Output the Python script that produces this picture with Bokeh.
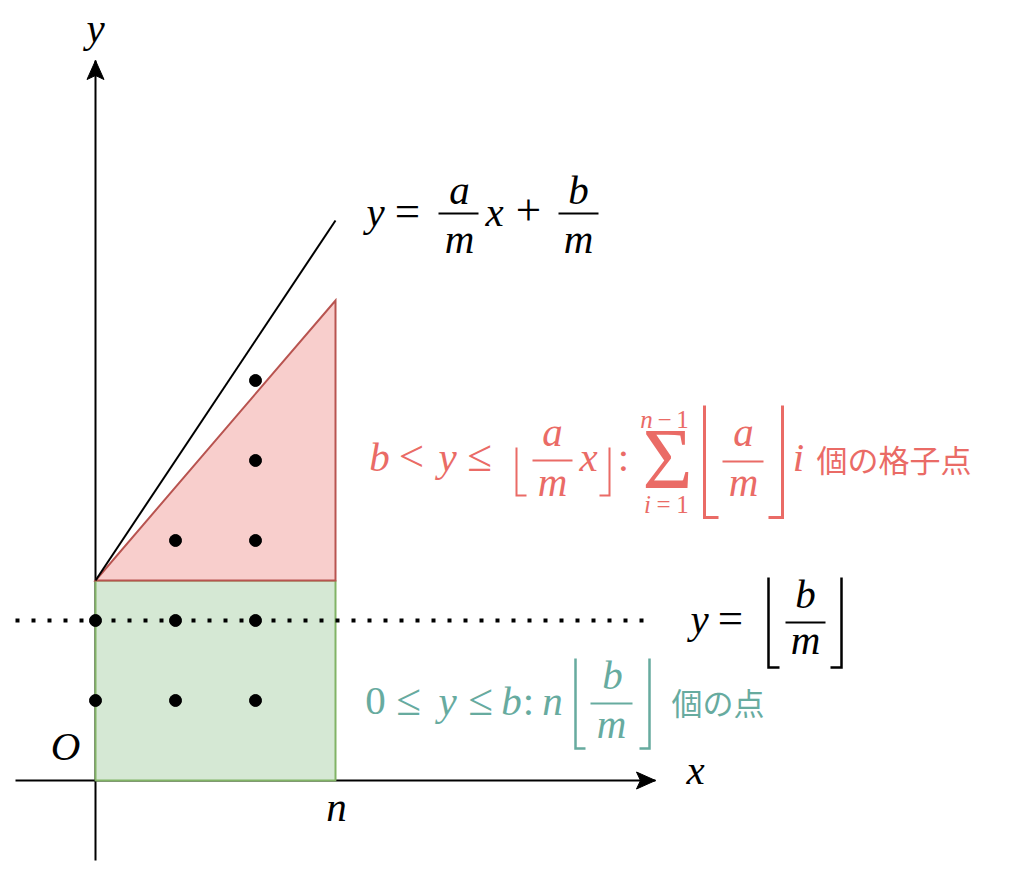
from bokeh.plotting import figure
from bokeh.models import Range1d
from bokeh.core.properties import value
from bokeh.embed import file_html
from bokeh.resources import INLINE

# ---- data (grid units: one lattice step = 1) ----
n_val = 3            # x = n
b_level = 2.5        # y = b (top of green region, start of red triangle)
floor_bm = 2         # y = floor(b/m) (dotted line)
red_top = 6          # top of red triangle at x = n
line_top = 7         # y of the line a/m x + b/m at x = n
x_axis = [-1, 7]
y_axis = [-1, 9]
dotted_x = [-1, 6.85]
dots_x = [0, 1, 2, 0, 1, 2, 1, 2, 2, 2]
dots_y = [1, 1, 1, 2, 2, 2, 3, 3, 4, 5]

RED_TXT = "#EA6B66"
GRN_TXT = "#67AB9F"

W, H = 1004, 862
OX, OY, U = 95, 780, 80.0   # origin in picture pixels, pixels per unit


def X(px):
    return (px - OX) / U


def Y(py):
    return (OY - py) / U


p = figure(width=W, height=H, output_backend="svg", toolbar_location=None,
           x_axis_type=None, y_axis_type=None, min_border=0,
           x_range=Range1d(X(0), X(W)), y_range=Range1d(Y(H), Y(0)))
p.grid.visible = False
p.outline_line_color = None
p.background_fill_color = "white"
p.border_fill_color = "white"

# axes
p.line(x=x_axis, y=[0, 0], line_color="black", line_width=2)
p.line(x=[0, 0], y=y_axis, line_color="black", line_width=2)


def head(tx, ty, dx, dy):
    L, Wd, N = 19 / U, 8.5 / U, 4 / U
    px_, py_ = -dy, dx
    bx, by = tx - dx * L, ty - dy * L
    nx, ny = tx - dx * (L - N), ty - dy * (L - N)
    return ([tx, bx + px_ * Wd, nx, bx - px_ * Wd],
            [ty, by + py_ * Wd, ny, by - py_ * Wd])


hx1, hy1 = head(x_axis[1], 0, 1, 0)
hx2, hy2 = head(0, y_axis[1], 0, 1)
p.patches(xs=[hx1, hx2], ys=[hy1, hy2], fill_color="black", line_color="black", line_width=1)

# regions
p.quad(left=[0], right=[n_val], bottom=[0], top=[b_level],
       fill_color="#D5E8D4", line_color="#82B366", line_width=2)
p.patch(x=[0, n_val, n_val], y=[b_level, b_level, red_top],
        fill_color="#F8CECC", line_color="#B85450", line_width=2, line_join="miter")

# dotted line y = floor(b/m)
p.line(x=dotted_x, y=[floor_bm, floor_bm], line_color="black", line_width=4,
       line_dash="4 12", line_cap="butt")

# line y = a/m x + b/m
p.line(x=[0, n_val], y=[b_level, line_top], line_color="black", line_width=2)

# lattice points
p.scatter(x=dots_x, y=dots_y, size=12, marker="circle", fill_color="black", line_color="black")

# ---- text (formulas assembled from pieces) ----
STY = {
    "i": ("Liberation Serif", "italic", 41),
    "r": ("Liberation Serif", "normal", 41),
    "o": ("Liberation Serif", "normal", 45),
    "si": ("Liberation Serif", "italic", 25),
    "sr": ("Liberation Serif", "normal", 25),
    "big": ("Liberation Serif", "normal", 86),
}
K = 0.33  # baseline correction (fraction of font size)

pieces = [
    # axis labels
    ("y", 95, 41, "i", "black"), ("x", 695, 783, "i", "black"),
    ("O", 65, 759, "i", "black"), ("n", 336, 820, "i", "black"),
    # y = a/m x + b/m
    ("y", 375, 225, "i", "black"), ("=", 407, 225, "o", "black"),
    ("a", 459, 203, "i", "black"), ("m", 459, 252, "i", "black"),
    ("x", 494, 225, "i", "black"), ("+", 528, 225, "o", "black"),
    ("b", 578, 203, "i", "black"), ("m", 578, 252, "i", "black"),
    # red formula
    ("b", 379, 470, "i", RED_TXT), ("<", 411, 470, "o", RED_TXT),
    ("y", 447, 470, "i", RED_TXT), ("≤", 479, 470, "o", RED_TXT),
    ("a", 552, 445, "i", RED_TXT), ("m", 552, 495, "i", RED_TXT),
    ("x", 588, 470, "i", RED_TXT), (":", 623, 470, "r", RED_TXT),
    ("Σ", 667, 487, "big", RED_TXT),
    ("n", 646, 427, "si", RED_TXT), ("−", 664, 427, "sr", RED_TXT), ("1", 682, 427, "sr", RED_TXT),
    ("i", 647, 512, "si", RED_TXT), ("=", 663, 512, "sr", RED_TXT), ("1", 682, 512, "sr", RED_TXT),
    ("a", 743, 445, "i", RED_TXT), ("m", 743, 495, "i", RED_TXT),
    ("i", 798, 470, "i", RED_TXT),
    # y = floor(b/m)
    ("y", 699, 632, "i", "black"), ("=", 730, 632, "o", "black"),
    ("b", 805, 607, "i", "black"), ("m", 805, 653, "i", "black"),
    # green formula
    ("0", 375, 714, "r", GRN_TXT), ("≤", 408, 714, "o", GRN_TXT),
    ("y", 447, 714, "i", GRN_TXT), ("≤", 480, 714, "o", GRN_TXT),
    ("b", 511, 714, "i", GRN_TXT), (":", 528, 714, "r", GRN_TXT),
    ("n", 552, 714, "i", GRN_TXT),
    ("b", 612, 688, "i", GRN_TXT), ("m", 611, 737, "i", GRN_TXT),
]

for t, cx, by, st, col in pieces:
    f, fs, sz = STY[st]
    p.text(x=[X(cx)], y=[Y(by - K * sz)], text=[t], text_font=value(f), text_font_style=fs,
           text_font_size=f"{sz}px", text_color=col, text_align="center",
           text_baseline="alphabetic")

cjk = [("個の格子点", 816, 458, RED_TXT), ("個の点", 671, 701, GRN_TXT)]
for t, lx, cy, col in cjk:
    p.text(x=[X(lx)], y=[Y(cy)], text=[t], text_font=value("Noto Sans CJK JP"),
           text_font_size="31px", text_color=col, text_align="left", text_baseline="middle")

# fraction bars
bars = [(438, 478, 213, "black"), (558, 598, 213, "black"),
        (532, 572, 460, RED_TXT), (722, 763, 461, RED_TXT),
        (785, 825, 622, "black"), (590, 632, 703, GRN_TXT)]
for x0, x1, yy, col in bars:
    p.line(x=[X(x0), X(x1)], y=[Y(yy), Y(yy)], line_color=col, line_width=2)

# floor brackets: (x_vertical, x_foot_end, y_top, y_bottom, color, width)
brackets = [
    (516, 526, 447, 495, RED_TXT, 2), (609, 599, 447, 495, RED_TXT, 2),
    (704, 718, 405, 517, RED_TXT, 3), (782, 768, 405, 517, RED_TXT, 3),
    (768, 779, 577, 667, "black", 2.5), (841, 830, 577, 667, "black", 2.5),
    (575, 585, 658, 748, GRN_TXT, 2.5), (649, 639, 658, 748, GRN_TXT, 2.5),
]
for xv, xf, yt, yb, col, lw in brackets:
    p.line(x=[X(xv), X(xv), X(xf)], y=[Y(yt), Y(yb), Y(yb)], line_color=col,
           line_width=lw, line_join="miter", line_cap="butt")

open("out.html", "w").write(file_html(p, INLINE))
